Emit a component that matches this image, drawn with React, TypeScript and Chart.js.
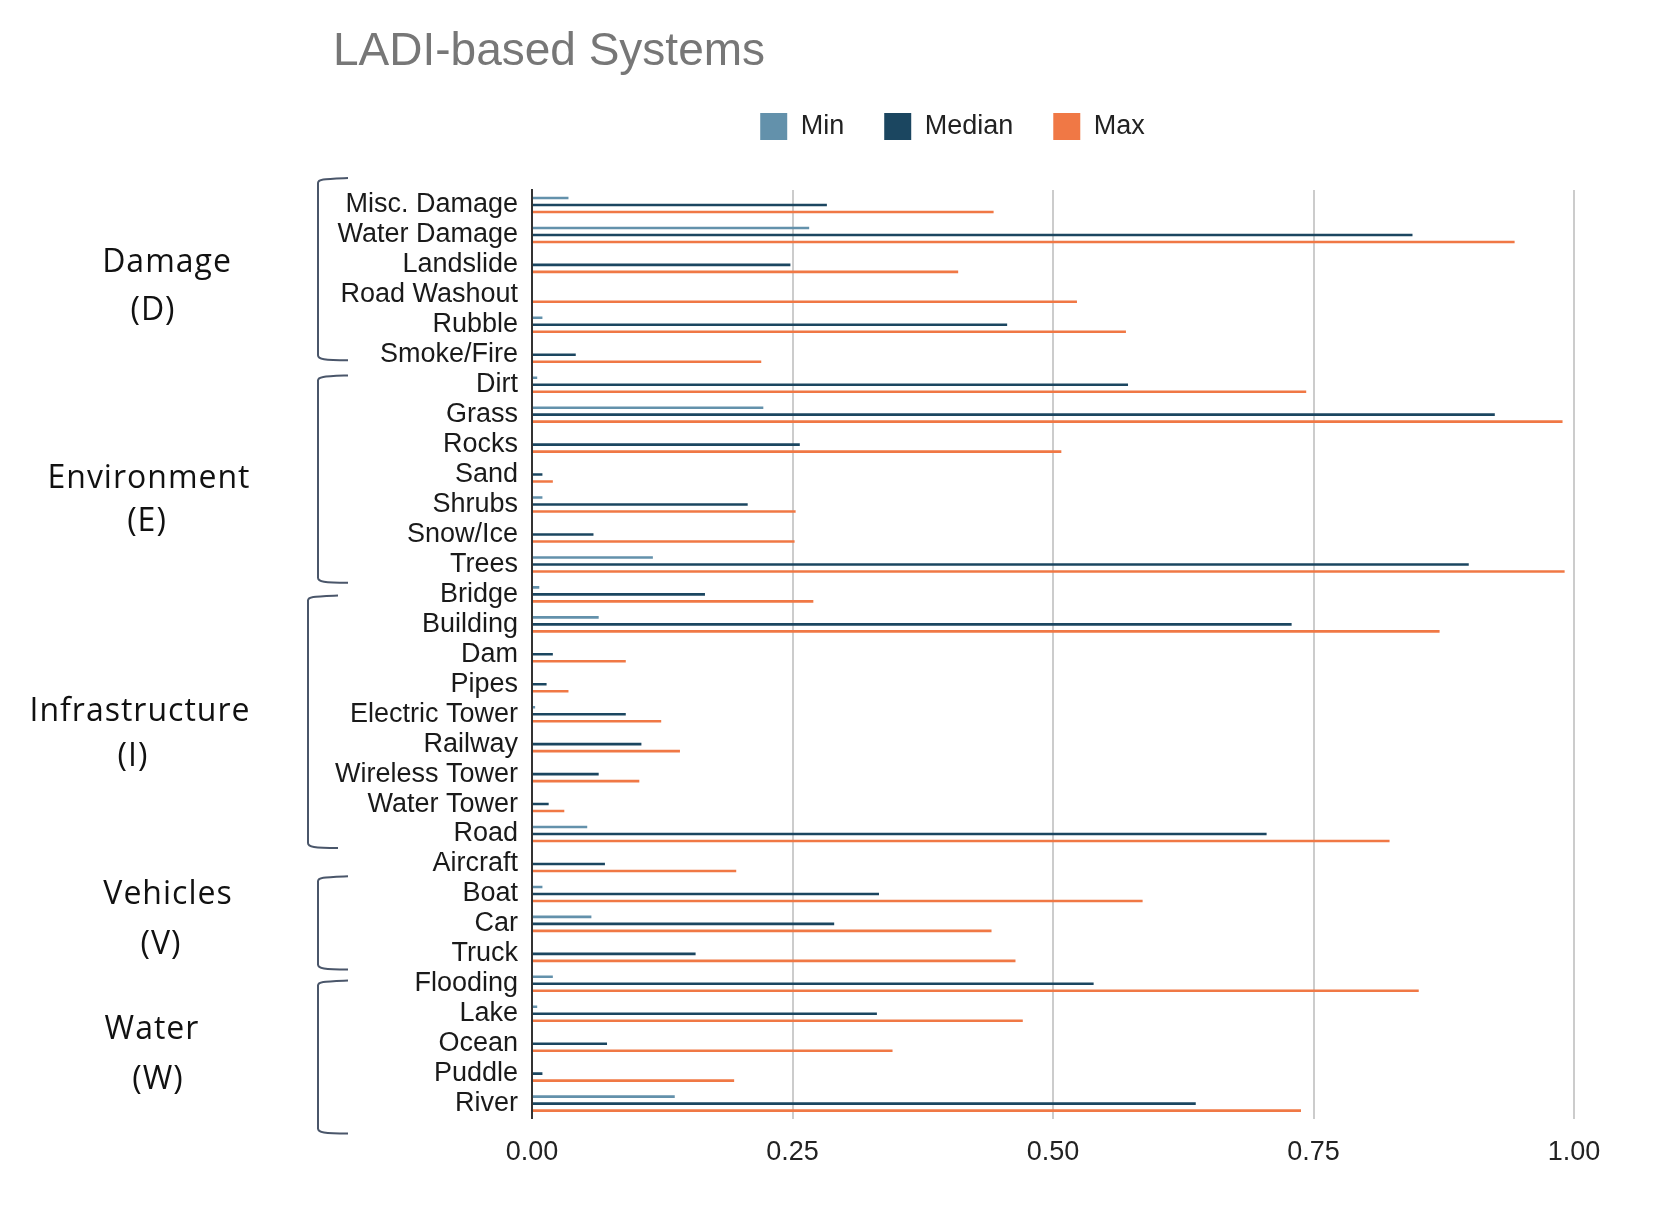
import { useEffect, useRef } from "react";
import { Chart, registerables, Plugin } from "chart.js";

Chart.register(...registerables);

const categories = [
  "Misc. Damage", "Water Damage", "Landslide", "Road Washout", "Rubble", "Smoke/Fire",
  "Dirt", "Grass", "Rocks", "Sand", "Shrubs", "Snow/Ice", "Trees",
  "Bridge", "Building", "Dam", "Pipes", "Electric Tower", "Railway", "Wireless Tower", "Water Tower", "Road",
  "Aircraft", "Boat", "Car", "Truck",
  "Flooding", "Lake", "Ocean", "Puddle", "River",
];

const minValues = [
  0.035, 0.266, 0, 0, 0.010, 0,
  0.005, 0.222, 0, 0, 0.010, 0, 0.116,
  0.007, 0.064, 0, 0, 0.003, 0, 0, 0, 0.053,
  0, 0.010, 0.057, 0,
  0.020, 0.005, 0, 0, 0.137,
];

const medianValues = [
  0.283, 0.845, 0.248, 0, 0.456, 0.042,
  0.572, 0.924, 0.257, 0.010, 0.207, 0.059, 0.899,
  0.166, 0.729, 0.020, 0.014, 0.090, 0.105, 0.064, 0.016, 0.705,
  0.070, 0.333, 0.290, 0.157,
  0.539, 0.331, 0.072, 0.010, 0.637,
];

const maxValues = [
  0.443, 0.943, 0.409, 0.523, 0.570, 0.220,
  0.743, 0.989, 0.508, 0.020, 0.253, 0.252, 0.991,
  0.270, 0.871, 0.090, 0.035, 0.124, 0.142, 0.103, 0.031, 0.823,
  0.196, 0.586, 0.441, 0.464,
  0.851, 0.471, 0.346, 0.194, 0.738,
];

const seriesNames = ["Min", "Median", "Max"];
const xTicks = [0, 0.25, 0.5, 0.75, 1];

const groupNames = ["Damage", "Environment", "Infrastructure", "Vehicles", "Water"];
const groupCodes = ["(D)", "(E)", "(I)", "(V)", "(W)"];

// where the hand-drawn brackets and group labels sit, in category units
const groupLayout = [
  { x: 318, top: -0.9, bottom: 5.18, nameX: 167, nameY: 2.24, codeX: 153, codeY: 3.85 },
  { x: 318, top: 5.69, bottom: 12.61, nameX: 149, nameY: 9.46, codeX: 147, codeY: 10.87 },
  { x: 308, top: 13.04, bottom: 21.47, nameX: 140, nameY: 17.22, codeX: 133, codeY: 18.73 },
  { x: 318, top: 22.41, bottom: 25.52, nameX: 168, nameY: 23.34, codeX: 161, codeY: 25.02 },
  { x: 318, top: 25.89, bottom: 31.0, nameX: 152, nameY: 27.83, codeX: 158, codeY: 29.5 },
];

const colors = ["#6391ab", "#1b4660", "#f07845"];

const decorations: Plugin<"bar"> = {
  id: "decorations",
  afterDraw(chart) {
    const { ctx } = chart;
    const yScale = chart.scales.y;
    const p0 = yScale.getPixelForValue(0);
    const step = yScale.getPixelForValue(1) - p0;
    const at = (u: number) => p0 + u * step;

    ctx.save();
    ctx.fillStyle = "#777777";
    ctx.font = "46px 'Liberation Sans', Arial, sans-serif";
    ctx.textAlign = "center";
    ctx.textBaseline = "alphabetic";
    ctx.fillText("LADI-based Systems", 549, 65);

    ctx.fillStyle = "#111111";
    ctx.font = "32px 'Open Sans', sans-serif";
    (ctx as any).letterSpacing = "1px";
    groupLayout.forEach((g, i) => {
      ctx.fillText(groupNames[i], g.nameX, at(g.nameY));
      ctx.fillText(groupCodes[i], g.codeX, at(g.codeY));

      const top = at(g.top);
      const bottom = at(g.bottom);
      const arm = 30;
      ctx.beginPath();
      ctx.moveTo(g.x + arm, top);
      ctx.bezierCurveTo(g.x + 6, top + 1, g.x, top + 1, g.x, top + 5);
      ctx.lineTo(g.x, bottom - 5);
      ctx.bezierCurveTo(g.x, bottom - 1, g.x + 6, bottom, g.x + arm, bottom);
      ctx.strokeStyle = "#4a566a";
      ctx.lineWidth = 2;
      ctx.stroke();
    });
    ctx.restore();
  },
};

const App = () => {
  const canvasRef = useRef<HTMLCanvasElement | null>(null);

  useEffect(() => {
    const values = [minValues, medianValues, maxValues];
    const chart = new Chart(canvasRef.current!, {
      type: "bar",
      data: {
        labels: categories,
        datasets: seriesNames.map((name, i) => ({
          label: name,
          data: values[i],
          backgroundColor: colors[i],
          borderWidth: 0,
          categoryPercentage: 0.7,
          barPercentage: 0.37,
        })),
      },
      options: {
        indexAxis: "y",
        animation: false,
        responsive: true,
        maintainAspectRatio: false,
        events: [],
        layout: { padding: { left: 331, right: 84, top: 73, bottom: 23 } },
        plugins: {
          title: { display: false },
          tooltip: { enabled: false },
          legend: {
            position: "top",
            labels: {
              boxWidth: 27,
              boxHeight: 27,
              padding: 40,
              color: "#222222",
              font: { size: 27, family: "'Liberation Sans', Arial, sans-serif" },
            },
          },
        },
        scales: {
          x: {
            type: "linear",
            min: 0,
            max: 1,
            afterBuildTicks: (scale) => {
              scale.ticks = xTicks.map((v) => ({ value: v }));
            },
            ticks: {
              callback: (v) => Number(v).toFixed(2),
              color: "#222222",
              padding: 18,
              font: { size: 27, family: "'Liberation Sans', Arial, sans-serif" },
            },
            grid: { color: "#cccccc", lineWidth: 2, drawTicks: false },
            border: { display: false },
          },
          x2: {
            type: "linear",
            position: "top",
            grid: { display: false },
            ticks: { display: false },
            border: { display: false },
            afterFit: (scale) => {
              scale.height = 40;
            },
          },
          y: {
            type: "category",
            grid: { display: false, drawTicks: false },
            border: { color: "#333333", width: 2 },
            afterFit: (scale) => {
              scale.width = 201;
            },
            ticks: {
              autoSkip: false,
              color: "#1a1a1a",
              padding: 14,
              font: { size: 27, family: "'Liberation Sans', Arial, sans-serif" },
            },
          },
        },
      },
      plugins: [decorations],
    });

    return () => chart.destroy();
  }, []);

  return (
    <div style={{ position: "absolute", left: 0, top: 0, width: "1658px", height: "1210px", background: "#ffffff" }}>
      <canvas ref={canvasRef} />
    </div>
  );
};

export default App;
